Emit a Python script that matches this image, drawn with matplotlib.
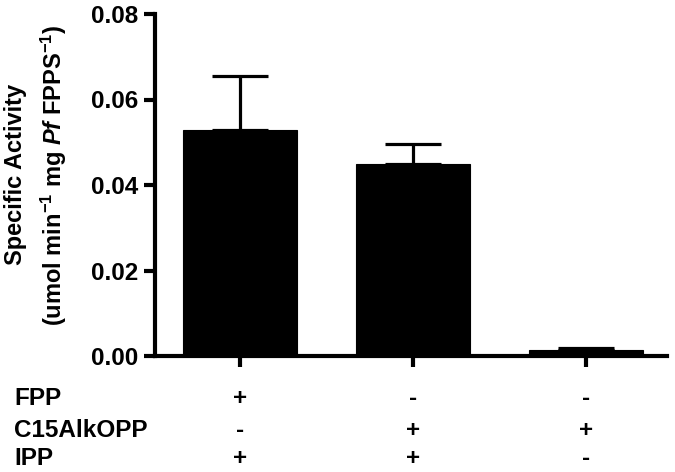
import matplotlib
matplotlib.use("Agg")
import matplotlib.pyplot as plt

conditions = ["FPP", "C15AlkOPP", "IPP"]
groups = [0, 1, 2]
activity = [0.0528, 0.0448, 0.0013]
sem = [0.0127, 0.0049, 0.0005]
signs = {
    "FPP": ["+", "-", "-"],
    "C15AlkOPP": ["-", "+", "+"],
    "IPP": ["+", "+", "-"],
}
yticks = [0.00, 0.02, 0.04, 0.06, 0.08]

plt.rcParams['font.family'] = ['Liberation Sans', 'DejaVu Sans']
plt.rcParams['font.weight'] = 'bold'
plt.rcParams['mathtext.fontset'] = 'custom'
plt.rcParams['mathtext.rm'] = 'Liberation Sans:bold'
plt.rcParams['mathtext.bf'] = 'Liberation Sans:bold'
plt.rcParams['mathtext.it'] = 'Liberation Sans:italic:bold'
plt.rcParams['mathtext.default'] = 'rm'

fig = plt.figure(figsize=(6.75, 4.72), dpi=100)
ax = fig.add_axes([155/675, 1-356/472, (667-155)/675, (356-14)/472])

ax.bar(groups, activity, width=0.66, color='black', edgecolor='black', linewidth=0.8, zorder=2)
ax.errorbar(groups, activity, yerr=[[0]*3, sem], fmt='none', ecolor='black',
            elinewidth=2.3, capsize=20, capthick=2.3, zorder=1)

ax.set_xlim(-0.49, 2.47)
ax.set_ylim(0, 0.08)
ax.set_yticks(yticks)
ax.set_yticklabels([f"{v:.2f}" for v in yticks], fontsize=17.5, fontweight='bold')
ax.set_xticks(groups)
ax.set_xticklabels([])
for s in ['top', 'right']:
    ax.spines[s].set_visible(False)
for s in ['left', 'bottom']:
    ax.spines[s].set_linewidth(3)
ax.tick_params(axis='both', width=3, length=8, direction='out')
ax.tick_params(axis='y', pad=4)

ax.set_ylabel("Specific Activity\n(umol min$^{-1}$ mg $\\it{Pf}$ FPPS$^{-1}$)",
              fontsize=17, fontweight='bold', linespacing=1.5)
ax.yaxis.set_label_coords(-0.168, 0.53)

baselines = [405, 437, 465]
for name, yb in zip(conditions, baselines):
    fy = 1 - yb/472
    fig.text(14/675, fy, name, fontsize=17.5, fontweight='bold', va='baseline', ha='left')
    for g, sgn in zip(groups, signs[name]):
        xd = ax.transData.transform((g, 0))[0]
        xf = fig.transFigure.inverted().transform((xd, 0))[0]
        fig.text(xf, fy, sgn, fontsize=17.5, fontweight='bold', va='baseline', ha='center')

fig.savefig("out.png", dpi=100)
